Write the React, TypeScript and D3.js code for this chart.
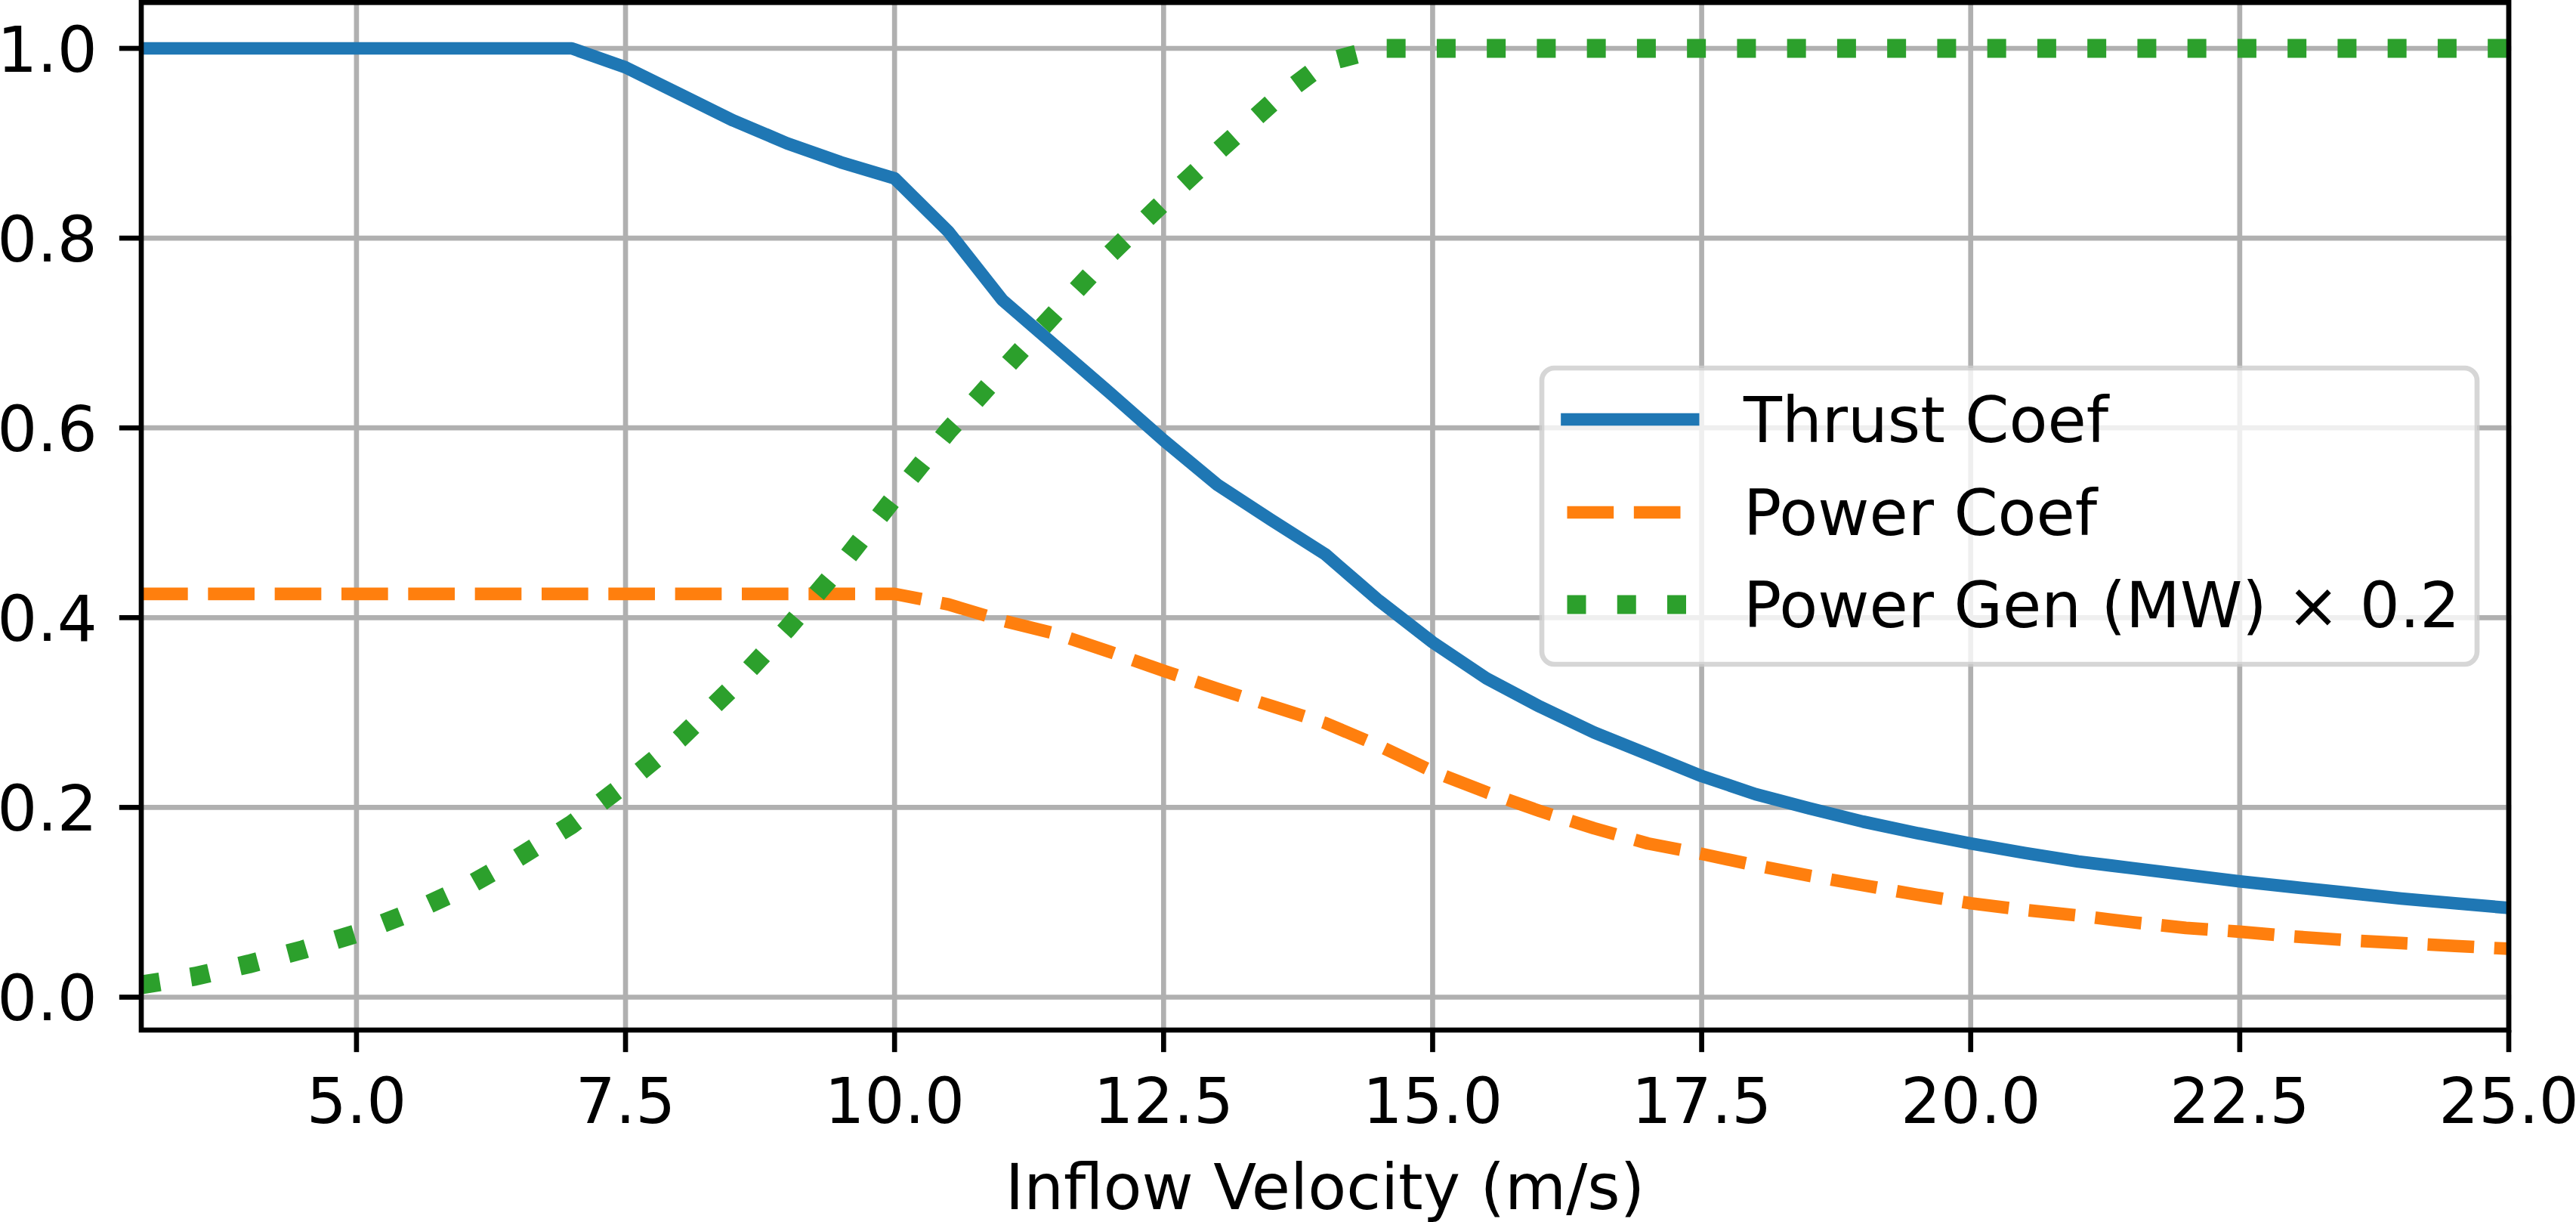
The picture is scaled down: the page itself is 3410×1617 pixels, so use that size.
import React from "react";
import * as d3 from "d3";

// ---- data ----
const velocity: number[] = [
  3.0, 3.5, 4.0, 4.5, 5.0, 5.5, 6.0, 6.5, 7.0, 7.5, 8.0, 8.5, 9.0, 9.5, 10.0,
  10.5, 11.0, 11.5, 12.0, 12.5, 13.0, 13.5, 14.0, 14.5, 15.0, 15.5, 16.0, 16.5,
  17.0, 17.5, 18.0, 18.5, 19.0, 19.5, 20.0, 20.5, 21.0, 21.5, 22.0, 22.5, 23.0,
  23.5, 24.0, 24.5, 25.0,
];

const thrustCoef: number[] = [
  1.0, 1.0, 1.0, 1.0, 1.0, 1.0, 1.0, 1.0, 1.0, 0.98, 0.952, 0.924, 0.9, 0.88,
  0.863, 0.807, 0.735, 0.686, 0.637, 0.587, 0.54, 0.503, 0.467, 0.418, 0.374,
  0.336, 0.306, 0.279, 0.256, 0.233, 0.214, 0.199, 0.185, 0.173, 0.162, 0.152,
  0.143, 0.136, 0.129, 0.122, 0.116, 0.11, 0.104, 0.099, 0.094,
];

const powerCoef: number[] = [
  0.425, 0.425, 0.425, 0.425, 0.425, 0.425, 0.425, 0.425, 0.425, 0.425, 0.425,
  0.425, 0.425, 0.425, 0.425, 0.414, 0.397, 0.383, 0.364, 0.344, 0.325, 0.307,
  0.289, 0.265, 0.238, 0.216, 0.196, 0.178, 0.162, 0.151, 0.139, 0.128, 0.118,
  0.108, 0.099, 0.092, 0.086, 0.079, 0.073, 0.069, 0.064, 0.06, 0.057, 0.054,
  0.051,
];

const powerGenScaled: number[] = [
  0.013, 0.022, 0.035, 0.05, 0.067, 0.089, 0.115, 0.147, 0.182, 0.225, 0.272,
  0.327, 0.388, 0.455, 0.527, 0.597, 0.66, 0.722, 0.783, 0.838, 0.891, 0.942,
  0.985, 1.0, 1.0, 1.0, 1.0, 1.0, 1.0, 1.0, 1.0, 1.0, 1.0, 1.0, 1.0, 1.0, 1.0,
  1.0, 1.0, 1.0, 1.0, 1.0, 1.0, 1.0, 1.0,
];

const seriesNames: string[] = ["Thrust Coef", "Power Coef", "Power Gen (MW) \u00d7 0.2"];
const seriesColors: string[] = ["#1f77b4", "#ff7f0e", "#2ca02c"];

const xTicks: number[] = [5.0, 7.5, 10.0, 12.5, 15.0, 17.5, 20.0, 22.5, 25.0];
const yTicks: number[] = [0.0, 0.2, 0.4, 0.6, 0.8, 1.0];
const xLabel = "Inflow Velocity (m/s)";

// ---- layout ----
const W = 3410;
const H = 1617;
const FS = 83.33;
const PT = 600 / 72; // px per point
const LEFT = 187;
const RIGHT = 3321;
const TOP = 3.3;
const BOTTOM = 1363;
const FONT = "'DejaVu Sans', sans-serif";

export default function App() {
  const x = d3.scaleLinear().domain([3, 25]).range([LEFT, RIGHT]);
  const y = d3.scaleLinear().domain([-0.03465, 1.04835]).range([BOTTOM, TOP]);

  const mk = (vals: number[]) =>
    d3
      .line<number>()
      .x((_, i) => x(velocity[i]))
      .y((d) => y(d))(vals) as string;

  const lw2 = 2 * PT;
  const lw3 = 3 * PT;
  const series = [
    { vals: thrustCoef, width: lw2, dash: undefined as string | undefined, cap: "square" },
    { vals: powerCoef, width: lw2, dash: `${3.7 * lw2} ${1.6 * lw2}`, cap: "butt" },
    { vals: powerGenScaled, width: lw3, dash: `${1 * lw3} ${1.65 * lw3}`, cap: "butt" },
  ];

  const gridW = 0.8 * PT;
  const tickLen = 3.5 * PT;
  const tickPad = 3.5 * PT;

  // legend geometry
  const legX = 2041;
  const legY = 487;
  const legW = 1238;
  const legH = 392;
  const handleX0 = 2074.5;
  const handleX1 = handleX0 + 2 * FS;
  const rowBase = [585, 707.5, 830];
  const rowLine = [555, 678, 800];
  const textX = 2308;

  return (
    <svg
      width={W}
      height={H}
      viewBox={`0 0 ${W} ${H}`}
      style={{ position: "absolute", left: 0, top: 0, display: "block", background: "#fff" }}
      fontFamily={FONT}
    >
      <defs>
        <clipPath id="plotClip">
          <rect x={LEFT} y={TOP} width={RIGHT - LEFT} height={BOTTOM - TOP} />
        </clipPath>
      </defs>
      <rect x={0} y={0} width={W} height={H} fill="#fff" />

      {/* grid */}
      <g stroke="#b0b0b0" strokeWidth={gridW} strokeLinecap="square">
        {xTicks.map((t) => (
          <line key={"gx" + t} x1={x(t)} x2={x(t)} y1={TOP} y2={BOTTOM} />
        ))}
        {yTicks.map((t) => (
          <line key={"gy" + t} x1={LEFT} x2={RIGHT} y1={y(t)} y2={y(t)} />
        ))}
      </g>

      {/* series */}
      <g clipPath="url(#plotClip)">
        {series.map((s, i) => (
          <path
            key={i}
            d={mk(s.vals)}
            fill="none"
            stroke={seriesColors[i]}
            strokeWidth={s.width}
            strokeDasharray={s.dash}
            strokeLinecap={s.cap as any}
            strokeLinejoin="round"
          />
        ))}
      </g>

      {/* spines */}
      <rect
        x={LEFT}
        y={TOP}
        width={RIGHT - LEFT}
        height={BOTTOM - TOP}
        fill="none"
        stroke="#000"
        strokeWidth={gridW}
        strokeLinejoin="miter"
      />

      {/* ticks */}
      <g stroke="#000" strokeWidth={gridW}>
        {xTicks.map((t) => (
          <line key={"tx" + t} x1={x(t)} x2={x(t)} y1={BOTTOM} y2={BOTTOM + tickLen} />
        ))}
        {yTicks.map((t) => (
          <line key={"ty" + t} x1={LEFT - tickLen} x2={LEFT} y1={y(t)} y2={y(t)} />
        ))}
      </g>

      {/* tick labels */}
      <g fontSize={FS} fill="#000">
        {xTicks.map((t) => (
          <text key={"lx" + t} x={x(t)} y={1486} textAnchor="middle">
            {t.toFixed(1)}
          </text>
        ))}
        {yTicks.map((t) => (
          <text key={"ly" + t} x={LEFT - tickLen - tickPad} y={y(t) + 31} textAnchor="end">
            {t.toFixed(1)}
          </text>
        ))}
      </g>

      {/* axis label */}
      <text x={(LEFT + RIGHT) / 2} y={1600} fontSize={FS} textAnchor="middle" fill="#000">
        {xLabel}
      </text>

      {/* legend */}
      <g>
        <rect
          x={legX}
          y={legY}
          width={legW}
          height={legH}
          rx={0.2 * FS}
          ry={0.2 * FS}
          fill="#fff"
          fillOpacity={0.8}
          stroke="#cccccc"
          strokeOpacity={0.8}
          strokeWidth={gridW}
        />
        {series.map((s, i) => (
          <g key={"leg" + i}>
            <line
              x1={handleX0}
              x2={handleX1}
              y1={rowLine[i]}
              y2={rowLine[i]}
              stroke={seriesColors[i]}
              strokeWidth={s.width}
              strokeDasharray={s.dash}
              strokeLinecap={s.cap as any}
            />
            <text x={textX} y={rowBase[i]} fontSize={FS} fill="#000">
              {seriesNames[i]}
            </text>
          </g>
        ))}
      </g>
    </svg>
  );
}
